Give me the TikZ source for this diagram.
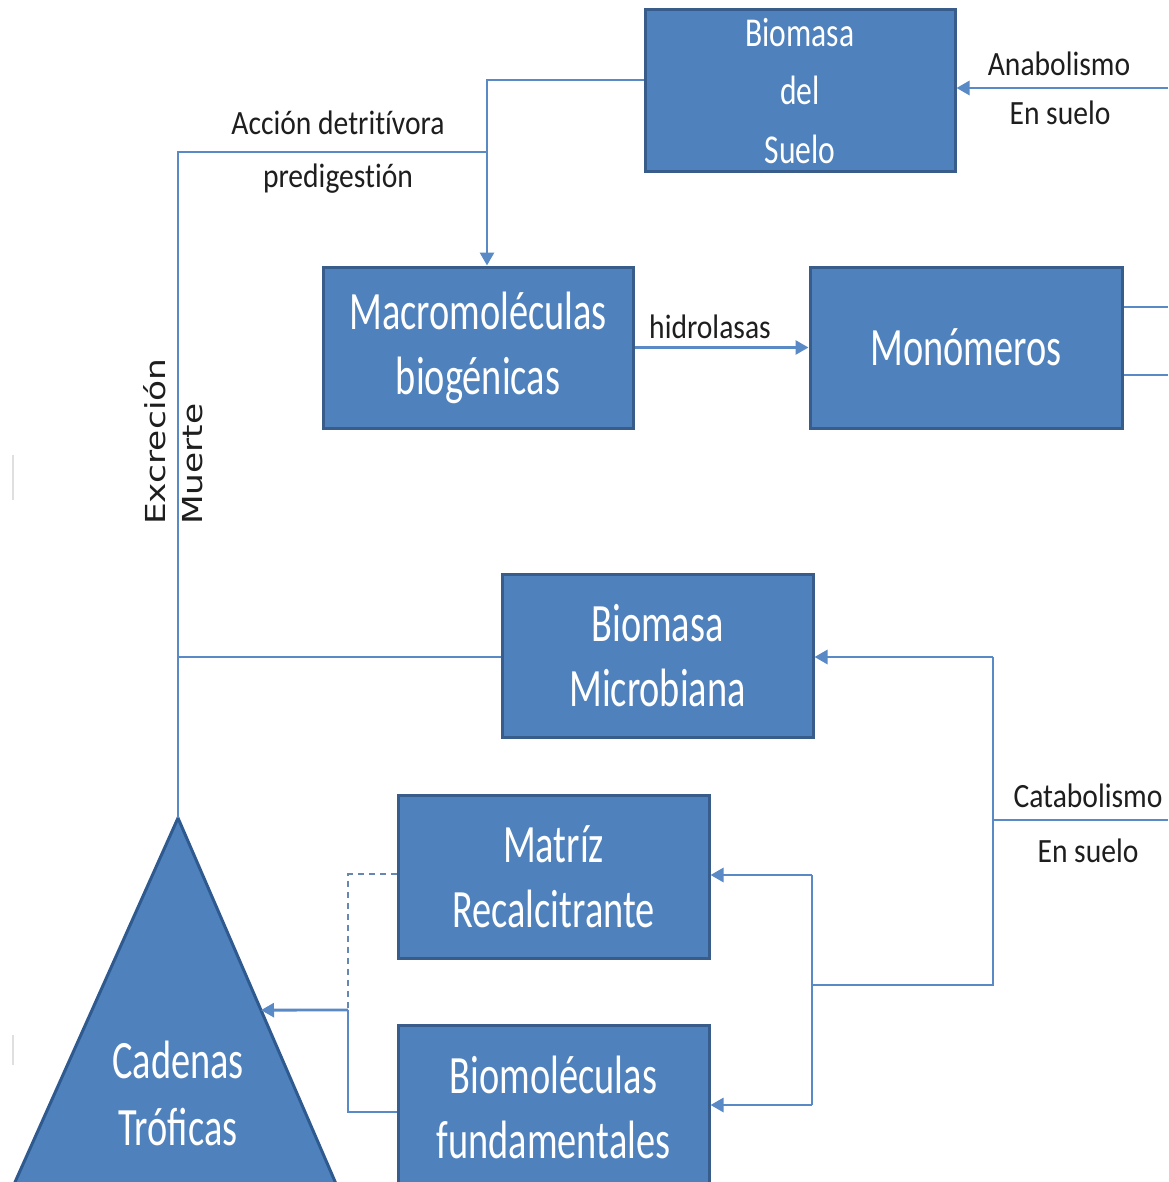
\documentclass[tikz,border=0pt]{standalone}
\usepackage{fontspec}
\newfontfamily\boxf[FakeStretch=0.71]{Carlito}
\newfontfamily\boxs[FakeStretch=0.77]{Carlito}
\newfontfamily\labf[FakeStretch=0.87,Ligatures=NoCommon]{Carlito}
\newfontfamily\vertf[FakeStretch=1.25]{DejaVu Sans}
\usetikzlibrary{arrows.meta,calc}
\definecolor{boxfill}{HTML}{4F81BD}
\definecolor{boxline}{HTML}{385D8A}
\definecolor{conn}{HTML}{5A8AC6}
\definecolor{tribord}{HTML}{2F5A8F}
\definecolor{labtxt}{HTML}{1E1E1E}
\tikzset{
  blk/.style={draw=boxline, line width=3pt, fill=boxfill, text=white, inner sep=0pt,
    align=center, minimum width=310pt, minimum height=161pt,
    font=\boxf\fontsize{54}{65}\selectfont},
  wire/.style={draw=conn, line width=2.8pt},
  arr/.style={wire, -{Triangle[length=13pt,width=14pt]}},
  dashwire/.style={draw=conn!70!gray, line width=2.8pt, dash pattern=on 6pt off 5pt},
  lab/.style={text=labtxt, inner sep=0pt, anchor=base, font=\labf\fontsize{34}{40}\selectfont},
  vlab/.style={text=labtxt, inner sep=0pt, anchor=base west, rotate=90,
    font=\vertf\fontsize{27.5}{32}\selectfont},
  tri/.style={draw=tribord, line width=3pt, fill=boxfill},
  tritext/.style={text=white, inner sep=0pt, align=center, font=\boxf\fontsize{54}{67}\selectfont},
}
\begin{document}
\begin{tikzpicture}[x=1pt,y=-1pt]
\useasboundingbox (0,0) rectangle (1168,1182);
\clip (0,0) rectangle (1168,1182);
\fill[white] (0,0) rectangle (1168,1182);

% boxes
\node[blk, font=\boxs\fontsize{41}{58.5}\selectfont, minimum height=162pt] (suelo) at (800,91) {Biomasa\\del\\Suelo};
\node[blk] (macro) at (478,347.5) {Macromoléculas\\biogénicas};
\node[blk, minimum width=312pt] (mono) at (966,347.5) {Monómeros};
\node[blk, minimum width=311pt, minimum height=163pt] (micro) at (657.5,655.5) {Biomasa\\Microbiana};
\node[blk, minimum width=311pt, minimum height=163pt] (matriz) at (553.5,876.5) {Matríz\\Recalcitrante};
\node[blk, minimum width=311pt, minimum height=164pt] (biomol) at (553.5,1107) {Biomoléculas\\fundamentales};

% triangle
\coordinate (apex) at (178,818);
\coordinate (tr) at (343,1200);
\coordinate (tl) at (7,1200);
\draw[tri] (apex) -- (tr) -- (tl) -- cycle;
\node[tritext] (cad) at (178,1093) {Cadenas\\Tróficas};

% coordinates
\coordinate (rA) at (1168,88);
\coordinate (jA) at (487,80);
\coordinate (jB) at (487,152);
\coordinate (jC) at (178,152);
\coordinate (mR1) at (1168,307);
\coordinate (mR2) at (1168,375);
\coordinate (rC) at (1168,820);
\coordinate (kT) at (993,657);
\coordinate (kM) at (993,820);
\coordinate (kB) at (993,985);
\coordinate (iB) at (812,985);
\coordinate (iT) at (812,875);
\coordinate (iL) at (812,1105);
\coordinate (dA) at (348,874);
\coordinate (dJ) at (348,1010);
\coordinate (dB) at (348,1112);
\coordinate (tin) at ($(apex)!0.503!(tr)$);

% connectors
\draw[arr] (rA) -- (rA -| suelo.east);
\draw[wire] (jA -| suelo.west) -- (jA) -- (jB);
\draw[arr] (jB) -- (jB |- macro.north);
\draw[wire] (jB) -- (jC) -- (apex);
\draw[arr] (macro.east) -- (mono.west);
\draw[wire] (mR1 -| mono.east) -- (mR1);
\draw[wire] (mR2 -| mono.east) -- (mR2);
\draw[wire] (kT -| micro.west) -- (kT -| jC);
\draw[arr] (kT) -- (kT -| micro.east);
\draw[wire] (kT) -- (kB) -- (iB);
\draw[wire] (rC) -- (kM);
\draw[wire] (iT) -- (iL);
\draw[arr] (iT) -- (iT -| matriz.east);
\draw[arr] (iL) -- (iL -| biomol.east);
\draw[dashwire] (dA -| matriz.west) -- (dA) -- (dJ);
\draw[wire] (dB -| biomol.west) -- (dB) -- (dJ);
\draw[arr] (dJ) -- (tin);

% labels
\node[lab] (anab) at (1059,76) {Anabolismo};
\node[lab] (ensuelo1) at (1060,125) {En suelo};
\node[lab] (accion) at (338,135) {Acción detritívora};
\node[lab] (predig) at (338,188) {predigestión};
\node[lab] (hidro) at (710,338) {hidrolasas};
\node[lab] (catab) at (1088,807) {Catabolismo};
\node[lab] (ensuelo2) at (1088,862) {En suelo};
\node[vlab] (excr) at (165,525) {Excreción};
\node[vlab] (muer) at (202,525) {Muerte};

% faint marks at left edge
\draw[gray!25, line width=2pt] (13,455) -- (13,500);
\draw[gray!25, line width=2pt] (13,1035) -- (13,1065);
\end{tikzpicture}
\end{document}
